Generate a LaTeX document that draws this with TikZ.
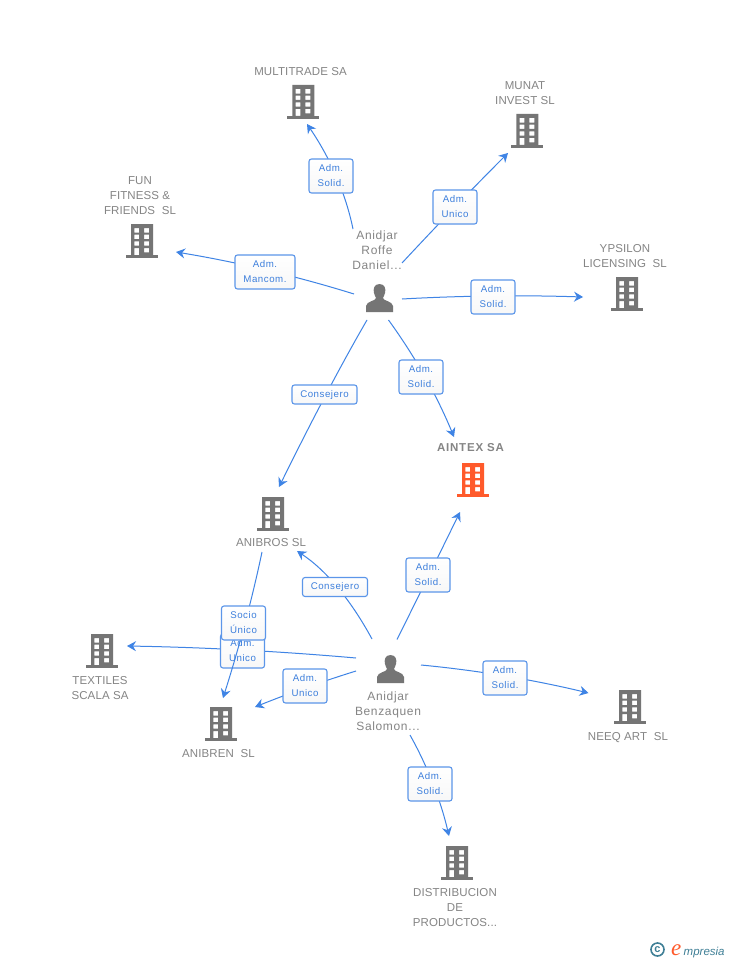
\documentclass[tikz,border=0pt]{standalone}
\usepackage{fontspec}
\setmainfont{Liberation Sans}
\newfontfamily\logoserif{Liberation Serif}
\newfontfamily\spacedA[LetterSpace=1]{Liberation Sans}
\newfontfamily\spacedB[LetterSpace=5.5]{Liberation Sans}
\newfontfamily\spacedC[LetterSpace=7]{Liberation Sans}
\usetikzlibrary{arrows.meta,calc}
\definecolor{linkblue}{HTML}{3F84E5}
\definecolor{txtblue}{HTML}{3D7FDC}
\definecolor{icongray}{HTML}{757575}
\definecolor{txtgray}{HTML}{858585}
\definecolor{orangeb}{HTML}{FF5A2B}
\definecolor{logoteal}{HTML}{3F7F96}
\tikzset{
  link/.style={draw=linkblue,line width=1pt,-{Stealth[length=9pt,width=10pt,inset=3pt]}},
  lab/.style={draw=linkblue!85,line width=1.1pt,top color=white,bottom color=black!3,rounded corners=2.5pt,text=txtblue,
     font=\spacedB\fontsize{9.7}{15}\selectfont,align=center,inner sep=0pt,minimum height=34pt,minimum width=44pt},
  ent/.style={text=txtgray,font=\spacedA\fontsize{11.5}{15}\selectfont,align=center,inner sep=0pt},
  per/.style={text=txtgray,font=\spacedB\fontsize{12}{15}\selectfont,align=center,inner sep=0pt},
  anchorpt/.style={inner sep=0pt,minimum size=0pt},
}
% building icon, centred on its node
\newcommand{\bldg}[3]{%
  \node[anchorpt] (#1) at (#2) {};
  \begin{scope}[shift={(#2)}]
    \fill[#3,even odd rule]
      (-11,-17) rectangle (11,14)
      (-7.6,-13) rectangle (-3,-8.3) (2,-13) rectangle (7,-8.3)
      (-7.6,-6.3) rectangle (-3,-2) (2,-6.3) rectangle (7,-2)
      (-7.6,0.3) rectangle (-3,4.7) (2,0.3) rectangle (7,4.7)
      (-7.6,7) rectangle (-3,14) (2,7) rectangle (7,11.3);
    \fill[#3] (-16,14) rectangle (16,17);
  \end{scope}}
% person icon, centred on its node
\newcommand{\persn}[2]{%
  \node[anchorpt] (#1) at (#2) {};
  \begin{scope}[shift={(#2)}]
    \fill[icongray] (0,-14) .. controls (-5.5,-14) and (-6.5,-9) .. (-5.5,-5)
      .. controls (-5,-2.5) and (-4,-1.5) .. (-3.5,0)
      .. controls (-3.5,3) and (-13,3) .. (-13.5,8)
      -- (-13.5,14) -- (13.5,14) -- (13.5,8)
      .. controls (13,3) and (3.5,3) .. (3.5,0)
      .. controls (4,-1.5) and (5,-2.5) .. (5.5,-5)
      .. controls (6.5,-9) and (5.5,-14) .. (0,-14) -- cycle;
  \end{scope}}
% \lnk{name}{source}{offset}{label pos}{target}{offset}{via}{options}{text}
% the connector is a parabola from source to target through the via point
\newcommand{\lnk}[9]{%
  \coordinate (#1s) at ($(#2)+(#3)$);
  \coordinate (#1e) at ($(#5)+(#6)$);
  \coordinate (#1v) at (#7);
  \draw[link] (#1s) .. controls ($(#1v)!-0.3333!(#1e)$) and ($(#1v)!-0.3333!(#1s)$) .. (#1e);
  \node[lab,#8] (#1) at (#4) {#9};}
\begin{document}
\begin{tikzpicture}[x=1pt,y=-1pt]
\useasboundingbox (0,0) rectangle (728,960);
\fill[white] (0,0) rectangle (728,960);

\bldg{multitrade}{303.3,102}{icongray}
\bldg{munat}{527.3,131}{icongray}
\bldg{fun}{142,241}{icongray}
\bldg{ypsilon}{627,294}{icongray}
\bldg{aintex}{473,480}{orangeb}
\bldg{anibros}{273,514}{icongray}
\bldg{textiles}{102,651}{icongray}
\bldg{anibren}{221,724}{icongray}
\bldg{neeq}{630,707}{icongray}
\bldg{distrib}{457,863}{icongray}
\persn{roffe}{379.5,298}
\persn{benza}{390.5,669}

\node[ent] (tmulti) at (300.5,71.5) {MULTITRADE SA};
\node[ent] (tmunat) at (525,93) {MUNAT\\INVEST SL};
\node[ent] (tfun) at (140,195.5) {FUN\\FITNESS \&\\FRIENDS\ \ SL};
\node[ent] (typs) at (625,256) {YPSILON\\LICENSING\ \ SL};
\node[ent,font=\spacedC\fontsize{11.5}{15}\selectfont\bfseries] (taintex) at (470.5,447.5) {AINTEX SA};
\node[ent] (tanibros) at (271,542.5) {ANIBROS SL};
\node[ent] (ttext) at (100,688) {TEXTILES\\SCALA SA};
\node[ent] (tanibren) at (218.5,753.5) {ANIBREN\ \ SL};
\node[ent] (tneeq) at (628,737.5) {NEEQ ART\ \ SL};
\node[ent] (tdist) at (455,907.5) {DISTRIBUCION\\DE\\PRODUCTOS...};
\node[per] (troffe) at (377,250) {Anidjar\\Roffe\\Daniel...};
\node[per] (tbenza) at (388,711.5) {Anidjar\\Benzaquen\\Salomon...};

\lnk{l1}{roffe}{-26.5,-69}{331,176}{multitrade}{3.7,22}{336,176}{}{Adm.\ \\Solid.}
\lnk{l2}{roffe}{22.5,-35}{455,207}{munat}{-19.3,22}{455,207}{}{Adm.\ \\Unico}
\lnk{l3}{roffe}{-25.5,-4}{265,272}{fun}{34,11}{266,270}{minimum width=60pt}{Adm.\\Mancom.}
\lnk{l4}{roffe}{22.5,1}{493,297}{ypsilon}{-44,3}{492,296}{}{Adm.\ \\Solid.}
\lnk{l5}{roffe}{9,22}{421,377}{aintex}{-19,-43}{425,377}{}{Adm.\ \\Solid.}
\lnk{l6}{roffe}{-12.5,22}{324.5,394.5}{anibros}{6,-27}{326,394.5}{minimum width=65pt,minimum height=19pt}{Consejero}
\lnk{l7}{benza}{6.5,-29.5}{428,575}{aintex}{-13,32}{429,575}{}{Adm.\ \\Solid.}
\lnk{l8}{benza}{-18.5,-30}{335,587}{anibros}{24,37}{337,587}{minimum width=65pt,minimum height=19pt}{Consejero}
\lnk{l9}{benza}{-34.5,-11}{242.5,651}{textiles}{25,-5}{242,650}{}{Adm.\ \\Unico}
\lnk{l10}{anibros}{-11,38}{243.5,623}{anibren}{2,-26}{245,623}{}{Socio\\Único}
\lnk{l11}{benza}{-34.5,2}{305,686}{anibren}{34,-17}{305,688}{}{Adm.\ \\Unico}
\lnk{l12}{benza}{30.5,-4}{505,678}{neeq}{-41.5,-14}{505,676}{}{Adm.\ \\Solid.}
\lnk{l13}{benza}{19.5,66}{430,784}{distrib}{-8,-27}{433,784}{}{Adm.\ \\Solid.}

\node[circle,draw=logoteal,line width=1.6pt,inner sep=0pt,minimum size=13pt,text=logoteal,font=\fontsize{11}{11}\selectfont\bfseries] (copy) at (657.5,949.5) {c};
\node[inner sep=0pt,anchor=base west,text=orangeb,font=\logoserif\fontsize{23}{23}\selectfont\itshape] (loge) at (671,955) {e};
\node[inner sep=0pt,anchor=base west,text=logoteal,font=\fontsize{11.5}{14}\selectfont\itshape] (logt) at (683.5,955) {mpresia};
\end{tikzpicture}
\end{document}
